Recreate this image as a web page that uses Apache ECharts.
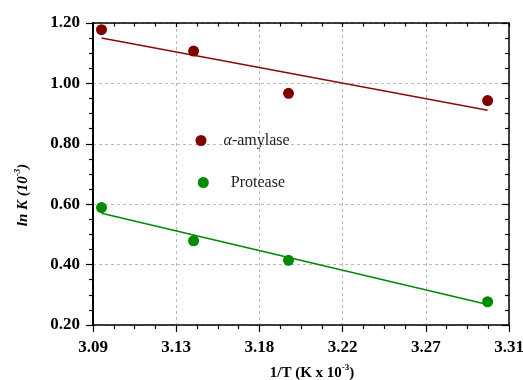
<!DOCTYPE html>
<html>
<head>
<meta charset="utf-8">
<script src="https://cdn.jsdelivr.net/npm/echarts@6/dist/echarts.min.js"></script>
<style>
html,body{margin:0;padding:0;background:#fff;}
#chart{width:523px;height:380px;}
</style>
</head>
<body>
<div id="chart"></div>
<script>
// 1/T (K x 10^-3)
var invT = [3.0945, 3.1432, 3.1934, 3.2987];
// ln K values
var amylaseLnK = [1.178, 1.107, 0.967, 0.943];
var proteaseLnK = [0.589, 0.479, 0.414, 0.277];
// fitted lines (end points)
var amylaseFitX = [3.0945, 3.2987];
var amylaseFitY = [1.150, 0.911];
var proteaseFitX = [3.0945, 3.2987];
var proteaseFitY = [0.570, 0.268];
var seriesNames = ['α-amylase', 'Protease'];
var xName = '1/T (K x 10';
var yName = 'ln K (10';

function pairs(xs, ys) { return xs.map(function (x, i) { return [x, ys[i]]; }); }

var serif = 'Liberation Serif';
var red = '#800000', green = '#008a00';

var chart = echarts.init(document.getElementById('chart'));
var xCommon = {
  type: 'value', min: 3.09, max: 3.31, interval: 0.044
};
var yCommon = {
  type: 'value', min: 0.2, max: 1.2, interval: 0.2
};
chart.setOption({
  animation: false,
  backgroundColor: '#fff',
  grid: { left: 93, right: 14, top: 23, bottom: 55, containLabel: false, outerBoundsMode: 'none' },
  legend: [
    {
      data: [seriesNames[0]], left: 195.5, top: 132.5, padding: 0,
      icon: 'circle', itemWidth: 11, itemHeight: 11,
      formatter: function () { return '{it|α}{n|-amylase}'; },
      textStyle: {
        padding: [0, 0, 0, 12],
        rich: {
          it: { fontFamily: serif, fontSize: 16, fontStyle: 'italic', color: '#222' },
          n: { fontFamily: serif, fontSize: 16, color: '#222' }
        }
      }
    },
    {
      data: [seriesNames[1]], left: 197.8, top: 174.5, padding: 0,
      icon: 'circle', itemWidth: 11, itemHeight: 11,
      textStyle: { padding: [0, 0, 0, 17], fontFamily: serif, fontSize: 16, color: '#222' }
    }
  ],
  xAxis: [
    Object.assign({}, xCommon, {
      position: 'bottom',
      name: '{n|' + xName + '}{s|-3}{n|)}',
      nameLocation: 'middle', nameGap: 38,
      nameTextStyle: {
        padding: [0, 0, 0, 22],
        rich: {
          n: { fontFamily: serif, fontSize: 15, fontWeight: 'bold', color: '#000', lineHeight: 18, verticalAlign: 'bottom' },
          s: { fontFamily: serif, fontSize: 9, fontWeight: 'bold', color: '#000', lineHeight: 18, verticalAlign: 'top' }
        }
      },
      axisLine: { lineStyle: { color: '#000', width: 1.5 } },
      axisTick: { inside: false, length: 7, lineStyle: { color: '#000', width: 1.2 } },
      minorTick: { show: true, splitNumber: 4, length: 4, lineStyle: { color: '#000', width: 1.2 } },
      axisLabel: {
        margin: 14, fontFamily: serif, fontSize: 17, fontWeight: 'bold', color: '#000',
        formatter: function (v) { return v.toFixed(2); }
      },
      splitLine: { show: true, lineStyle: { color: '#bbb', type: [3, 3], width: 1 } }
    }),
    Object.assign({}, xCommon, {
      position: 'top',
      axisLine: { lineStyle: { color: '#000', width: 1.5 } },
      axisTick: { inside: true, length: 4, lineStyle: { color: '#000', width: 1.2 } },
      minorTick: { show: true, splitNumber: 4, length: 3.5, lineStyle: { color: '#000', width: 1.2 } },
      axisLabel: { show: false },
      splitLine: { show: false }
    })
  ],
  yAxis: [
    Object.assign({}, yCommon, {
      position: 'left',
      name: '{n|' + yName + '}{s|-3}{n|)}',
      nameLocation: 'middle', nameGap: 62,
      nameTextStyle: {
        padding: [0, 42, 0, 0],
        rich: {
          n: { fontFamily: serif, fontSize: 15, fontWeight: 'bold', fontStyle: 'italic', color: '#000', lineHeight: 18, verticalAlign: 'bottom' },
          s: { fontFamily: serif, fontSize: 9, fontWeight: 'bold', fontStyle: 'italic', color: '#000', lineHeight: 18, verticalAlign: 'top' }
        }
      },
      axisLine: { lineStyle: { color: '#000', width: 2 } },
      axisTick: { inside: false, length: 7, lineStyle: { color: '#000', width: 1.2 } },
      minorTick: { show: true, splitNumber: 4, length: 4, lineStyle: { color: '#000', width: 1.2 } },
      axisLabel: {
        margin: 13, fontFamily: serif, fontSize: 17, fontWeight: 'bold', color: '#000',
        formatter: function (v) { return v.toFixed(2); }
      },
      splitLine: { show: true, lineStyle: { color: '#bbb', type: [3, 3], width: 1 } }
    }),
    Object.assign({}, yCommon, {
      position: 'right',
      axisLine: { lineStyle: { color: '#000', width: 1.5 } },
      axisTick: { inside: true, length: 7, lineStyle: { color: '#000', width: 1.2 } },
      minorTick: { show: true, splitNumber: 4, length: 4, lineStyle: { color: '#000', width: 1.2 } },
      axisLabel: { show: false },
      splitLine: { show: false }
    })
  ],
  series: [
    {
      name: seriesNames[0] + ' fit', type: 'line', data: pairs(amylaseFitX, amylaseFitY),
      showSymbol: false, symbol: 'none', lineStyle: { color: '#8b0a0a', width: 1.5 }, z: 2, silent: true
    },
    {
      name: seriesNames[1] + ' fit', type: 'line', data: pairs(proteaseFitX, proteaseFitY),
      showSymbol: false, symbol: 'none', lineStyle: { color: green, width: 1.5 }, z: 2, silent: true
    },
    {
      name: seriesNames[0], type: 'scatter', data: pairs(invT, amylaseLnK),
      symbol: 'circle', symbolSize: 11, itemStyle: { color: red, opacity: 1 }, z: 3
    },
    {
      name: seriesNames[1], type: 'scatter', data: pairs(invT, proteaseLnK),
      symbol: 'circle', symbolSize: 11, itemStyle: { color: green, opacity: 1 }, z: 3
    }
  ]
});
</script>
</body>
</html>
